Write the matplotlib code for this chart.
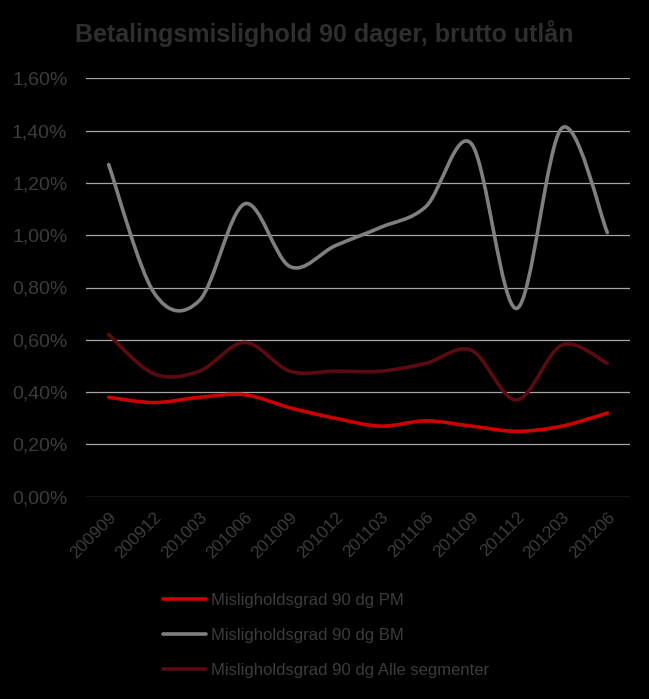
import matplotlib
matplotlib.use("Agg")
import matplotlib.pyplot as plt
import numpy as np
from matplotlib.path import Path
from matplotlib.patches import PathPatch
from matplotlib.lines import Line2D
from matplotlib.ticker import FuncFormatter

plt.rcParams['font.family'] = ['Liberation Sans', 'DejaVu Sans']

# data (percent)
periods = ['200909', '200912', '201003', '201006', '201009', '201012',
           '201103', '201106', '201109', '201112', '201203', '201206']
pm = [0.38, 0.36, 0.38, 0.39, 0.34, 0.30, 0.27, 0.29, 0.27, 0.25, 0.27, 0.32]
bm = [1.27, 0.78, 0.75, 1.12, 0.88, 0.96, 1.03, 1.11, 1.35, 0.72, 1.41, 1.01]
alle = [0.62, 0.47, 0.48, 0.59, 0.48, 0.48, 0.48, 0.51, 0.56, 0.37, 0.58, 0.51]

labels = ['Misligholdsgrad 90 dg PM', 'Misligholdsgrad 90 dg BM',
          'Misligholdsgrad 90 dg Alle segmenter']
colors = ['#cc0000', '#7f7f7f', '#5c0a12']
yticks = [0.0, 0.2, 0.4, 0.6, 0.8, 1.0, 1.2, 1.4, 1.6]

txt = '#3c3c3c'


def smooth_path(xs, ys):
    # excel-like smoothed line: cubic bezier through every point
    p = np.column_stack([xs, ys]).astype(float)
    n = len(p)
    verts = [p[0]]
    codes = [Path.MOVETO]
    for i in range(n - 1):
        p0 = p[i - 1] if i > 0 else p[i]
        p3 = p[i + 2] if i + 2 < n else p[i + 1]
        c1 = p[i] + (p[i + 1] - p0) / 6.0
        c2 = p[i + 1] - (p3 - p[i]) / 6.0
        verts += [c1, c2, p[i + 1]]
        codes += [Path.CURVE4] * 3
    return Path(verts, codes)


fig = plt.figure(figsize=(6.49, 6.99), dpi=100, facecolor='black')
ax = fig.add_axes([86 / 649, 1 - 496.7 / 699, 544 / 649, (496.7 - 78.3) / 699])
ax.set_facecolor('black')

x = np.arange(len(periods))
handles = []
for vals, c, lab in zip([pm, bm, alle], colors, labels):
    ax.add_patch(PathPatch(smooth_path(x, vals), fill=False, edgecolor=c,
                           lw=2.6, capstyle='round', joinstyle='round', zorder=3))
    handles.append(Line2D([], [], color=c, lw=2.6, solid_capstyle='round'))

ax.set_xlim(-0.5, len(periods) - 0.5)
ax.set_ylim(0, 1.6)
ax.set_yticks(yticks)
ax.yaxis.set_major_formatter(FuncFormatter(lambda v, pos: f'{v:.2f}%'.replace('.', ',')))
ax.set_xticks(x)
ax.set_xticklabels(periods, rotation=45, ha='right', rotation_mode='anchor')
ax.tick_params(axis='both', length=0, colors=txt)
ax.tick_params(axis='y', labelsize=14, pad=13.5)
ax.tick_params(axis='x', labelsize=12.5, pad=9)
ax.grid(axis='y', color='#a6a6a6', lw=0.9)
ax.set_axisbelow(True)
for s in ax.spines.values():
    s.set_visible(False)

fig.text(324 / 649, 1 - 34 / 699, 'Betalingsmislighold 90 dager, brutto utlån',
         ha='center', va='center', fontsize=18, fontweight='bold', color='#2e2e2e')

leg = fig.legend(handles, labels, loc='upper left', bbox_to_anchor=(163 / 649, 1 - 593 / 699),
                 frameon=False, fontsize=12, handlelength=2.6, handletextpad=0.3,
                 labelspacing=1.2, borderpad=0, borderaxespad=0)
for t in leg.get_texts():
    t.set_color(txt)

fig.savefig('out.png', dpi=100, facecolor='black')
